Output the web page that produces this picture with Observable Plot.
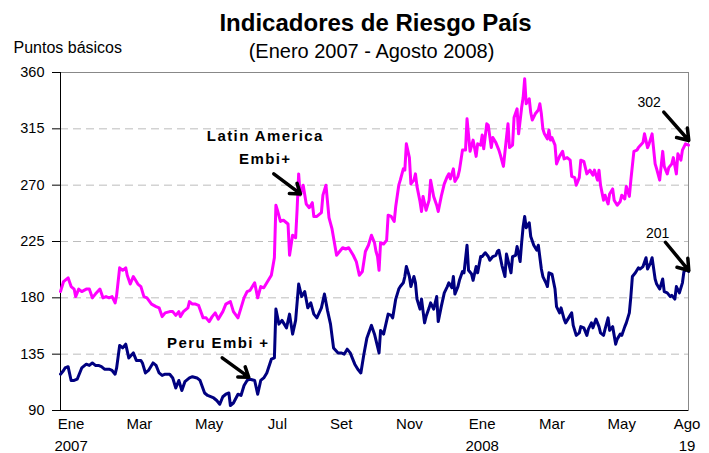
<!DOCTYPE html>
<html>
<head>
<meta charset="utf-8">
<script src="https://cdn.jsdelivr.net/npm/d3@7"></script>
<script src="https://cdn.jsdelivr.net/npm/@observablehq/plot@0.6"></script>
<style>
  html, body { margin: 0; padding: 0; background: #fff; }
  #chart { width: 709px; height: 453px; }
</style>
</head>
<body>
<div id="chart"></div>
<script>
// ---- Data (trading-day index along the axis, basis points) ----
const latamDay = [0,2,5,7,9,10,12,14,17,19,21,23,26,28,30,32,34,36,37,39,41,43,44,46,48,51,53,55,57,60,63,65,67,69,72,74,76,78,79,81,84,85,87,89,91,94,96,98,100,102,104,107,109,112,114,117,119,121,123,125,128,130,132,134,136,139,141,142,143,145,147,150,151,153,155,156,157,158,160,162,164,166,167,169,172,173,175,177,179,182,184,186,188,190,193,195,197,199,201,203,205,207,208,209,210,211,213,215,216,218,220,221,223,224,226,227,228,230,231,233,234,235,237,238,239,241,243,244,246,248,249,251,253,255,256,257,259,260,262,263,265,267,268,270,272,274,275,277,278,279,281,282,284,285,287,289,290,292,294,295,296,298,299,301,302,304,305,306,307,309,310,311,313,315,316,317,318,319,321,322,323,324,326,327,329,331,332,334,336,337,339,340,342,343,345,347,349,351,352,354,355,356,358,359,361,362,364,365,367,369,370,372,373,375,376,378,380,381,384,385,387,388,390,392,393,395,397,398,400,401,403,404,406,407,409,410,412,414];
const latamBp = [185,193,196,189,187,181,187,185,187,187,180,183,187,180,181,180,181,176,182,204,202,204,198,191,197,191,189,181,180,175,173,172,165,168,169,169,166,169,165,169,172,177,175,175,174,164,164,161,165,168,163,169,175,177,169,164,172,180,185,186,192,180,189,188,192,198,212,254,250,241,242,239,214,230,228,251,279,262,270,255,252,256,245,245,248,262,270,244,235,214,217,220,219,220,214,209,198,201,217,222,230,224,217,213,202,224,223,226,246,245,241,253,270,274,283,282,303,292,271,274,279,269,257,249,261,250,258,274,261,254,249,261,271,277,279,275,283,273,277,282,298,298,323,297,306,293,303,302,310,299,319,318,300,308,304,298,294,285,308,319,300,302,324,331,311,332,340,355,335,339,328,322,327,330,335,327,315,311,307,314,306,308,302,287,293,297,291,292,290,277,276,270,276,290,289,279,282,278,282,274,282,270,258,262,255,263,267,258,254,257,262,259,269,261,274,297,298,300,304,311,300,303,311,287,283,274,297,285,279,284,287,292,279,295,290,298,303,302];

const peruDay = [0,2,3,5,7,9,11,13,14,17,19,21,23,25,27,29,32,34,36,37,39,41,43,45,48,50,53,54,56,58,61,63,65,67,69,72,74,76,78,80,82,85,87,90,92,95,97,99,101,103,105,107,109,111,112,114,117,119,121,123,125,128,130,132,134,136,139,141,142,144,146,149,151,153,155,157,159,161,163,165,167,169,172,174,176,178,180,183,185,187,189,191,194,196,198,200,202,205,207,208,210,211,213,216,218,219,221,223,224,226,227,228,230,231,233,234,235,237,238,240,241,243,244,246,248,249,251,253,255,256,258,259,260,262,263,265,266,268,269,271,272,274,275,277,278,280,282,283,285,287,288,289,291,293,294,296,297,298,300,301,303,304,305,306,307,309,310,312,314,315,317,318,320,321,322,324,326,327,329,330,332,333,335,337,338,340,342,343,345,347,348,350,351,353,355,356,358,359,361,362,364,366,367,369,370,372,373,375,376,377,379,381,382,384,386,387,389,390,392,393,395,397,398,400,402,403,405,406,408,410,411,413,414];
const peruBp = [119,122,124,125,114,114,115,121,124,127,126,128,126,126,125,123,123,122,119,124,142,140,143,132,136,130,130,128,120,122,128,126,120,118,119,119,116,108,114,106,113,116,117,116,114,104,102,101,100,98,95,101,103,104,94,96,103,102,110,114,115,114,103,114,116,120,131,132,171,159,162,156,167,151,162,191,181,185,172,176,167,164,172,183,170,159,140,136,136,135,139,136,127,123,120,135,148,158,151,146,136,154,151,167,166,164,179,187,189,192,197,205,197,189,197,192,179,171,179,160,165,172,176,171,181,161,173,184,189,192,188,197,183,189,194,201,200,222,202,199,194,205,200,213,213,216,213,210,213,214,217,218,206,197,215,205,200,213,214,221,209,224,237,245,236,240,229,222,218,222,203,197,192,189,200,199,187,173,168,172,163,160,164,168,158,150,152,157,156,150,155,160,156,163,157,152,150,155,164,154,157,143,147,151,150,157,160,168,181,197,200,204,203,205,212,203,208,212,195,191,187,195,185,184,181,182,179,189,184,192,201,203,201];

const yTicks = [90, 135, 180, 225, 270, 315, 360];
const monthTickDay = [7, 52, 98, 143, 185, 230, 278, 324, 370, 413];
const monthTickLabel = ["Ene", "Mar", "May", "Jul", "Set", "Nov", "Ene", "Mar", "May", "Ago"];
const yearTickDay = [7, 278, 413];
const yearTickLabel = ["2007", "2008", "19"];

const titleText = "Indicadores de Riesgo País";
const subtitleText = "(Enero 2007 - Agosto 2008)";
const yLabelText = "Puntos básicos";

const noteText = ["Latin America", "Embi+", "Peru Embi +", "302", "201"];
const noteDay = [135, 135, 104, 388, 393.6];
const noteBp = [305, 287.3, 139.8, 332.3, 227.6];
const noteBold = [true, true, true, false, false];

const arrowFromDay = [140.6, 106.6, 397.7, 398.8];
const arrowFromBp = [279, 132.1, 328.3, 224.4];
const arrowToDay = [158.2, 124.1, 414.2, 414.2];
const arrowToBp = [263, 116.6, 305.7, 201.8];

// ---- Tables built from the arrays ----
const latam = latamDay.map((d, i) => ({day: d, bp: latamBp[i]}));
const peru = peruDay.map((d, i) => ({day: d, bp: peruBp[i]}));
const monthTicks = monthTickDay.map((d, i) => ({day: d, label: monthTickLabel[i]}));
const yearTicks = yearTickDay.map((d, i) => ({day: d, label: yearTickLabel[i]}));
const notes = noteText.map((t, i) => ({text: t, day: noteDay[i], bp: noteBp[i], bold: noteBold[i]}));
const arrows = arrowFromDay.map((d, i) => ({x1: d, y1: arrowFromBp[i], x2: arrowToDay[i], y2: arrowToBp[i]}));

const chart = Plot.plot({
  width: 709,
  height: 453,
  marginLeft: 60,
  marginRight: 21,
  marginTop: 72,
  marginBottom: 43,
  style: {fontFamily: "'Liberation Sans', Arial, sans-serif", color: "#000", background: "#fff", overflow: "visible"},
  x: {domain: [0, 414], axis: null},
  y: {domain: [90, 360], axis: null},
  marks: [
    Plot.ruleY(yTicks.filter(v => v > 90 && v < 360), {stroke: "#bdbdbd", strokeDasharray: "8,5", strokeWidth: 1}),
    Plot.frame({stroke: "#888"}),
    Plot.ruleX([0], {stroke: "#000", strokeWidth: 1}),
    Plot.ruleY([90], {stroke: "#000", strokeWidth: 1}),
    Plot.axisY({ticks: yTicks, tickSize: 8, tickPadding: 8, fontSize: 14.5, label: null, tickFormat: d => String(d)}),
    Plot.line(latam, {x: "day", y: "bp", stroke: "#ff00ff", strokeWidth: 3, strokeLinejoin: "round"}),
    Plot.line(peru, {x: "day", y: "bp", stroke: "#000080", strokeWidth: 3, strokeLinejoin: "round"}),
    Plot.text(monthTicks, {x: "day", text: "label", frameAnchor: "bottom", dy: 18, lineAnchor: "bottom", fontSize: 15}),
    Plot.text(yearTicks, {x: "day", text: "label", frameAnchor: "bottom", dy: 40, lineAnchor: "bottom", fontSize: 15}),
    Plot.text(notes.filter(d => d.bold), {x: "day", y: "bp", text: "text", lineAnchor: "bottom", fontSize: 15, fontWeight: "bold"}),
    Plot.text(notes.filter(d => !d.bold), {x: "day", y: "bp", text: "text", lineAnchor: "bottom", fontSize: 14}),
    Plot.arrow(arrows, {x1: "x1", y1: "y1", x2: "x2", y2: "y2", stroke: "#000", strokeWidth: 3.5, headLength: 10, headAngle: 70}),
    Plot.text([titleText], {frameAnchor: "top", dx: 1, dy: -42, lineAnchor: "bottom", fontSize: 24, fontWeight: "bold"}),
    Plot.text([subtitleText], {frameAnchor: "top", dx: -3, dy: -15, lineAnchor: "bottom", fontSize: 20}),
    Plot.text([yLabelText], {frameAnchor: "top-left", textAnchor: "start", dx: -47, dy: -20, lineAnchor: "bottom", fontSize: 16})
  ]
});
// Wider letter spacing for the bold series annotations (as in the original)
const boldNotes = new Set(notes.filter(d => d.bold).map(d => d.text));
d3.select(chart).selectAll("text")
  .filter(function () { return boldNotes.has(this.textContent); })
  .style("letter-spacing", "1.4px");
document.getElementById("chart").appendChild(chart);
</script>
</body>
</html>
